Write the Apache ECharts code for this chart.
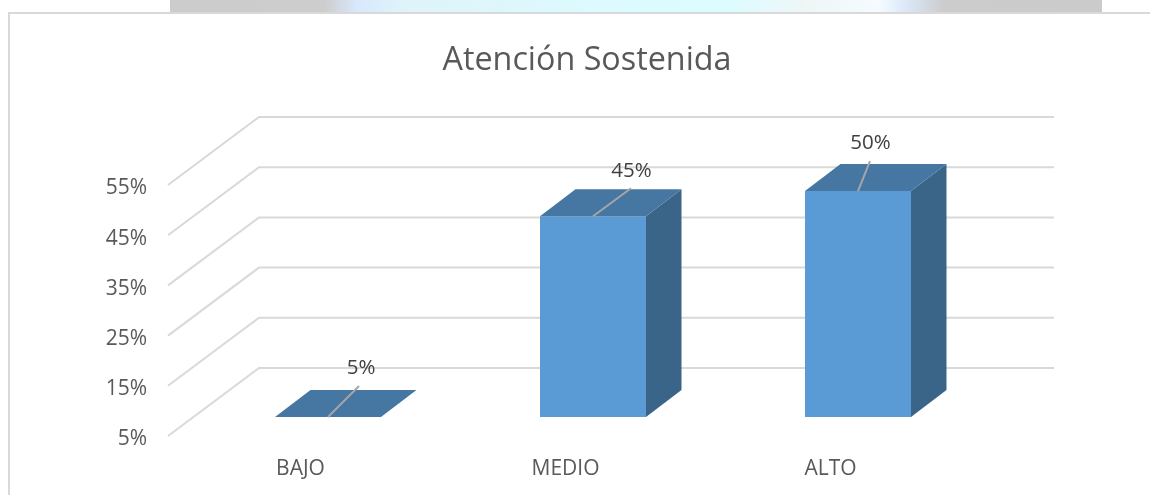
<!DOCTYPE html>
<html>
<head>
<meta charset="utf-8">
<style>html,body{margin:0;padding:0;background:#fff}#main{width:1150px;height:495px}</style>
<script src="https://cdn.jsdelivr.net/npm/echarts@6/dist/echarts.min.js"></script>
</head>
<body>
<div id="main"></div>
<script>
var categories = ['BAJO', 'MEDIO', 'ALTO'];
var values = [5, 45, 50];
var gridTicks = [5, 15, 25, 35, 45, 55];
// leader end of each data label, then the text centre, relative to the bar's front top centre
var labelNudge = [[31, -31, 33, -49], [38, -28, 38.5, -45], [12, -30, 12.5, -48]];

var font = '"Open Sans", "Noto Sans", sans-serif';
var wallDepth = [91, -68];
var barShift = [27.5, -19];
var barDepth = [35.5, -27];
var barWidth = 106;

var myChart = echarts.init(document.getElementById('main'), null, {renderer: 'canvas'});

function renderWalls(params, api) {
	var v = api.value(0);
	var cs = params.coordSys;
	var p = api.coord([categories[0], v]);
	var x0 = cs.x, y0 = p[1];
	return {
		type: 'polyline',
		shape: {points: [[x0, y0], [x0 + wallDepth[0], y0 + wallDepth[1]], [x0 + cs.width + wallDepth[0], y0 + wallDepth[1]]]},
		style: {fill: null, stroke: '#d9d9d9', lineWidth: 2}
	};
}

function renderBar(params, api) {
	var i = api.value(0);
	var p = api.coord([i, api.value(1)]);
	var b = api.coord([i, gridTicks[0]]);
	var l = p[0] - barWidth / 2 + barShift[0], r = l + barWidth;
	var t = p[1] + barShift[1], f = b[1] + barShift[1];
	var dx = barDepth[0], dy = barDepth[1];
	var n = labelNudge[i];
	var cx = (l + r) / 2;
	return {
		type: 'group',
		children: [
			{type: 'rect', shape: {x: l, y: t, width: barWidth, height: f - t}, style: {fill: '#5b9bd5'}},
			{type: 'polygon', shape: {points: [[r, t], [r + dx, t + dy], [r + dx, f + dy], [r, f]]}, style: {fill: '#3a6589'}},
			{type: 'polygon', shape: {points: [[l, t], [l + dx, t + dy], [r + dx, t + dy], [r, t]]}, style: {fill: '#4677a2'}},
			{type: 'line', shape: {x1: cx, y1: t, x2: cx + n[0], y2: t + n[1]}, style: {stroke: '#a6a6a6', lineWidth: 2}},
			{type: 'text', x: cx + n[2], y: t + n[3], style: {
				text: values[i] + '%', fill: '#404040', font: '20.5px ' + font, align: 'center', verticalAlign: 'middle'
			}}
		]
	};
}

var option = {
	animation: false,
	backgroundColor: '#fff',
	title: {
		text: 'Atención Sostenida',
		left: 582, top: 40, textAlign: 'center',
		textStyle: {color: '#595959', fontSize: 32.3, fontWeight: 'normal', fontFamily: font}
	},
	grid: {left: 168, top: 185, width: 795, height: 251},
	xAxis: {
		type: 'category', data: categories,
		axisLine: {show: false}, axisTick: {show: false},
		axisLabel: {color: '#595959', fontSize: 21, fontFamily: font, margin: 23}
	},
	yAxis: {
		type: 'value', min: 5, max: 55, interval: 10,
		axisLine: {show: false}, axisTick: {show: false}, splitLine: {show: false},
		axisLabel: {color: '#595959', fontSize: 21, fontFamily: font, margin: 21, verticalAlign: 'top', lineHeight: 7, formatter: '{value}%'}
	},
	graphic: [
		{type: 'rect', z: -1, shape: {x: 170, y: 0, width: 932, height: 13}, style: {
			fill: new echarts.graphic.LinearGradient(0, 0, 1, 0, [
				{offset: 0, color: '#cccccc'},
				{offset: 0.166, color: '#cdcdcd'},
				{offset: 0.2, color: '#d8e8fb'},
				{offset: 0.25, color: '#dff3fa'},
				{offset: 0.46, color: '#dcfaff'},
				{offset: 0.6, color: '#dcfcff'},
				{offset: 0.68, color: '#eef6f6'},
				{offset: 0.76, color: '#f5fbff'},
				{offset: 0.79, color: '#dbe8f8'},
				{offset: 0.83, color: '#cccccc'},
				{offset: 1, color: '#cbcbcb'}
			])
		}},
		{type: 'polyline', z: -1, shape: {points: [[9, 495], [9, 13], [1150, 13]]}, style: {fill: null, stroke: '#d9d9d9', lineWidth: 2}}
	],
	series: [
		{type: 'custom', coordinateSystem: 'cartesian2d', renderItem: renderWalls, data: gridTicks.map(function(v){return [v];}), encode: {y: 0}, silent: true, z: 1},
		{type: 'custom', coordinateSystem: 'cartesian2d', renderItem: renderBar, data: values.map(function(v, i){return [i, v];}), encode: {x: 0, y: 1}, silent: true, z: 2}
	]
};
myChart.setOption(option);
window.onresize = myChart.resize;
</script>
</body>
</html>
